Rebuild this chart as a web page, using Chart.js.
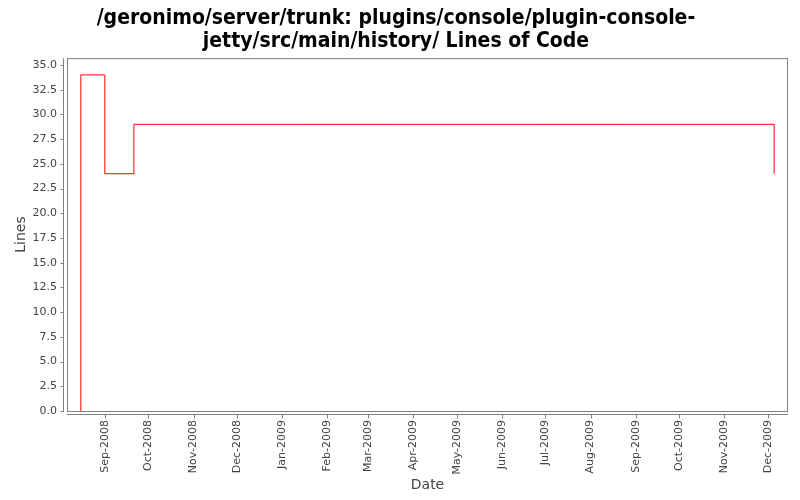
<!DOCTYPE html>
<html><head><meta charset="utf-8">
<script src="https://cdn.jsdelivr.net/npm/chart.js@4/dist/chart.umd.min.js"></script>
<style>html,body{margin:0;padding:0;background:#fff}#wrap{width:800px;height:500px}</style>
</head><body><div id="wrap"><canvas id="c" width="800" height="500"></canvas></div>
<script>
const titleLines = ["/geronimo/server/trunk: plugins/console/plugin-console-", "jetty/src/main/history/ Lines of Code"];
const pointDates = ["2008-08-15T12:00", "2008-08-15T12:00", "2008-09-01T00:00", "2008-09-21T00:00", "2009-12-05T06:00"];
const lineValues = [0, 34, 24, 29, 24];
const monthTicks = ["2008-09","2008-10","2008-11","2008-12","2009-01","2009-02","2009-03","2009-04","2009-05","2009-06","2009-07","2009-08","2009-09","2009-10","2009-11","2009-12"];
const monthNames = ["Jan","Feb","Mar","Apr","May","Jun","Jul","Aug","Sep","Oct","Nov","Dec"];
const yTicks = [0,2.5,5,7.5,10,12.5,15,17.5,20,22.5,25,27.5,30,32.5,35];
const xRange = ["2008-08-06T00:00", "2009-12-14T18:00"];
const yMax = 35.7;

function dayNum(s){ return Date.parse(s + (s.length===7 ? "-01T00:00:00Z" : ":00Z")) / 86400000; }
const pts = pointDates.map((d,i)=>({x: dayNum(d), y: lineValues[i]}));
const tickMap = {};
monthTicks.forEach(m=>{ const [y,mo]=m.split("-"); tickMap[dayNum(m)] = monthNames[+mo-1] + "-" + y; });

const axisPlugin = {
  id: 'axisPlugin',
  afterDraw(chart){
    const {ctx, chartArea:a, scales} = chart;
    ctx.save();
    ctx.strokeStyle = '#808080'; ctx.lineWidth = 1;
    ctx.strokeRect(a.left+0.5, a.top+0.5, a.right-a.left-1, a.bottom-a.top);
    const ax = a.left - 3.5;
    ctx.beginPath(); ctx.moveTo(ax, a.top); ctx.lineTo(ax, a.bottom+1); ctx.stroke();
    scales.y.ticks.forEach(t=>{ const py=Math.round(scales.y.getPixelForValue(t.value))+0.5; ctx.beginPath(); ctx.moveTo(ax-3, py); ctx.lineTo(ax, py); ctx.stroke(); });
    const ay = a.bottom + 3.5;
    ctx.beginPath(); ctx.moveTo(a.left, ay); ctx.lineTo(a.right, ay); ctx.stroke();
    scales.x.ticks.forEach(t=>{ const px=Math.round(scales.x.getPixelForValue(t.value))+0.5; ctx.beginPath(); ctx.moveTo(px, ay); ctx.lineTo(px, ay+4); ctx.stroke(); });
    ctx.restore();
  }
};

new Chart(document.getElementById('c'), {
  type: 'line',
  data: { datasets: [{ data: pts, borderColor: '#ff0000', borderWidth: 1, pointRadius: 0, stepped: true, fill: false, tension: 0 }] },
  options: {
    responsive: false, animation: false, devicePixelRatio: 1,
    layout: { padding: { left: 4, right: 12, top: 2, bottom: 0 } },
    plugins: {
      legend: { display: false }, tooltip: { enabled: false },
      title: { display: true, text: titleLines, color: '#000', font: { family: "'DejaVu Sans Condensed', 'Liberation Sans Narrow', 'DejaVu Sans'", size: 21, weight: 'bold', lineHeight: 1.05 }, padding: { top: 6, bottom: 6 } }
    },
    scales: {
      x: {
        type: 'linear', min: dayNum(xRange[0]), max: dayNum(xRange[1]),
        afterBuildTicks: s => { s.ticks = monthTicks.map(m=>({value: dayNum(m)})); },
        afterFit: s => { s.height = 89; },
        grid: { display: false, drawTicks: false },
        border: { display: false },
        ticks: { autoSkip: false, minRotation: 90, maxRotation: 90, padding: 9, color: '#444', font: { family: 'DejaVu Sans', size: 11 }, callback: v => tickMap[v] || '' },
        title: { display: true, text: 'Date', color: '#444', font: { family: 'DejaVu Sans', size: 14 }, padding: { top: 0, bottom: 6 } }
      },
      y: {
        type: 'linear', min: 0, max: yMax,
        afterBuildTicks: s => { s.ticks = yTicks.map(v=>({value: v})); },
        afterFit: s => { s.width = 63; },
        grid: { display: false, drawTicks: false },
        border: { display: false },
        ticks: { padding: 10, color: '#444', font: { family: 'DejaVu Sans', size: 11 }, callback: v => v.toFixed(1) },
        title: { display: true, text: 'Lines', color: '#444', font: { family: 'DejaVu Sans', size: 14 }, padding: { top: 9, bottom: 0 } }
      }
    }
  },
  plugins: [axisPlugin]
});
</script></body></html>
